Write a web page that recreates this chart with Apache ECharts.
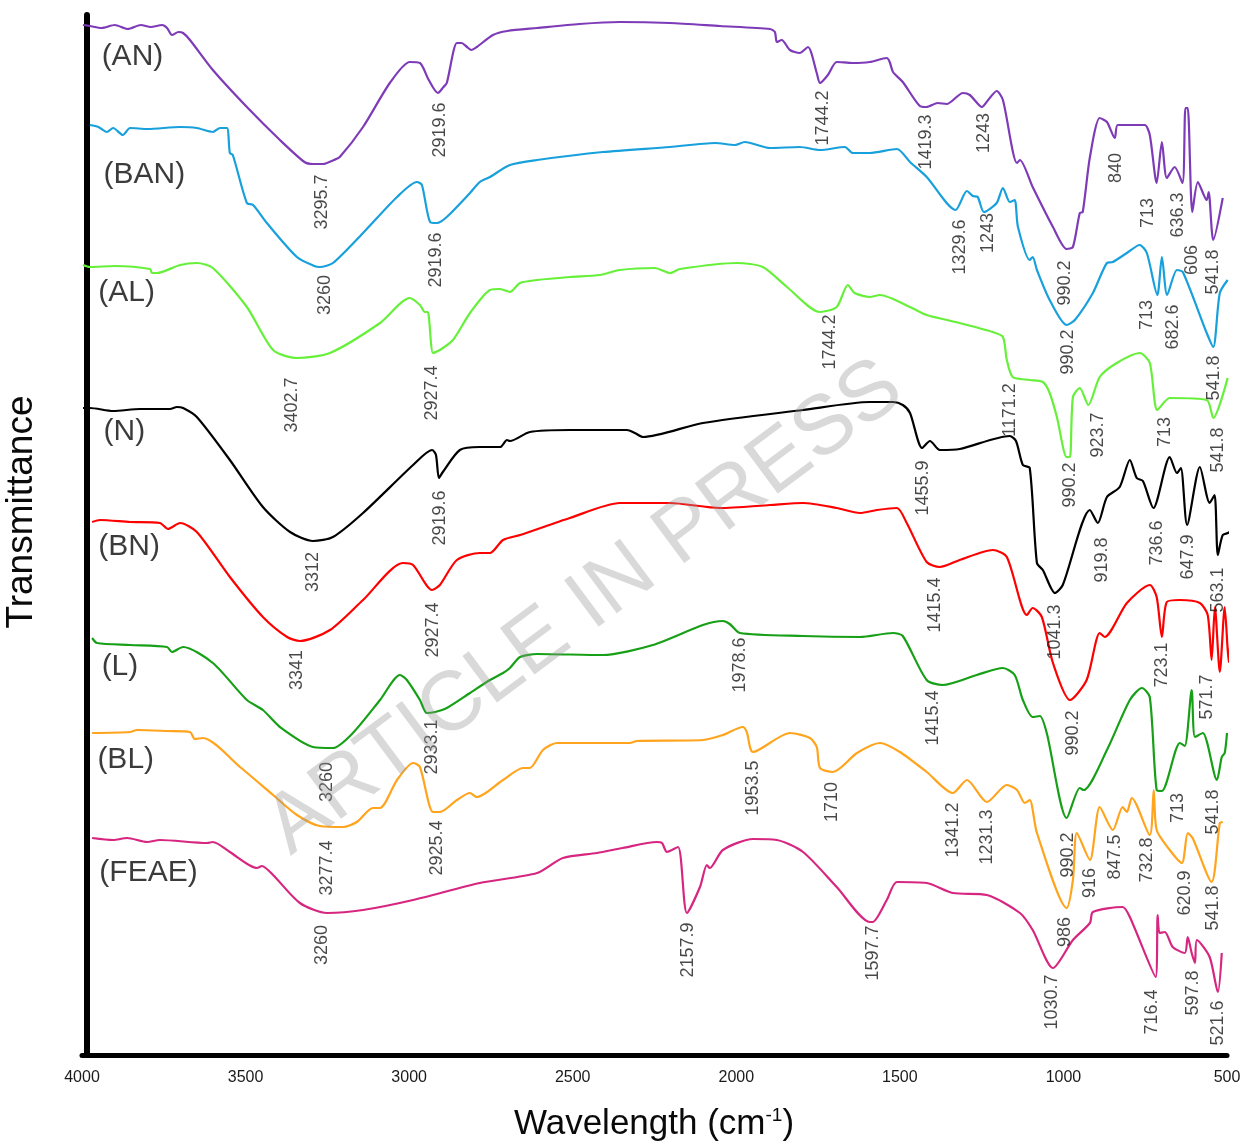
<!DOCTYPE html>
<html><head><meta charset="utf-8">
<script src="https://cdn.jsdelivr.net/npm/echarts@6/dist/echarts.min.js"></script>
<style>html,body{margin:0;padding:0;background:#fff}#c{width:1244px;height:1144px}</style>
</head><body><div id="c"></div>
<script>
// x: wavenumber (cm-1), y: transmittance (arbitrary offset units)
const wavenumberTicks = [4000, 3500, 3000, 2500, 2000, 1500, 1000, 500];
const sampleNames = ['(AN)', '(BAN)', '(AL)', '(N)', '(BN)', '(L)', '(BL)', '(FEAE)'];
const nameAnchors = [[3940, 998], [3934, 880], [3950, 762], [3934, 623], [3950, 508], [3940, 388], [3953, 295], [3947, 182]];

const AN = [[3997,1030],[3976,1029],[3940,1027],[3900,1030],[3860,1026],[3820,1030],[3790,1028],[3755,1030],[3740,1027],[3725,1020],[3705,1023],[3691,1022],[3670,1015],[3600,985],[3496,948],[3395,915],[3320,893],[3294,891],[3263,891],[3230,895],[3212,898],[3141,928],[3059,972],[2998,993],[2967,992],[2940,975],[2912,962],[2895,968],[2885,972],[2854,1012],[2840,1012],[2823,1008],[2810,1005],[2793,1008],[2744,1020],[2700,1024],[2609,1027],[2480,1031],[2356,1033],[2203,1032],[2050,1029],[1897,1026],[1882,1023],[1876,1013],[1861,1015],[1836,1005],[1806,1002],[1781,1008],[1754,982],[1744,972],[1720,980],[1693,993],[1644,992],[1592,993],[1540,997],[1531,993],[1521,983],[1491,973],[1439,949],[1419,948],[1384,952],[1357,951],[1307,962],[1286,960],[1249,948],[1230,955],[1204,964],[1185,955],[1142,892],[1133,895],[1094,868],[1032,828],[990,806],[971,808],[950,842],[941,843],[919,898],[889,937],[867,933],[843,917],[834,930],[776,930],[751,930],[736,920],[715,872],[699,913],[684,877],[660,888],[636,872],[627,947],[620,947],[606,843],[589,873],[562,855],[556,863],[542,815],[513,857]];
const BAN = [[3976,930],[3950,928],[3924,923],[3905,927],[3875,920],[3853,927],[3800,926],[3700,928],[3649,927],[3600,923],[3578,927],[3557,927],[3548,902],[3539,900],[3496,852],[3477,850],[3435,832],[3343,798],[3290,789],[3273,788],[3233,792],[3141,822],[3037,858],[2976,873],[2961,870],[2936,833],[2915,832],[2885,838],[2814,862],[2784,873],[2753,878],[2692,890],[2609,895],[2408,903],[2203,908],[2065,912],[2004,910],[1974,913],[1897,907],[1806,908],[1744,905],[1668,908],[1644,902],[1592,902],[1509,906],[1469,893],[1418,878],[1330,845],[1295,864],[1277,859],[1262,858],[1243,843],[1204,852],[1185,867],[1164,853],[1149,855],[1139,828],[1103,795],[1094,798],[1081,785],[1042,755],[990,730],[965,735],[910,762],[867,792],[849,793],[806,802],[767,810],[745,802],[713,760],[699,798],[683,760],[653,785],[635,783],[562,722],[542,708],[522,762],[498,775]];
const AL = [[3997,790],[3976,788],[3900,789],[3792,786],[3786,782],[3771,782],[3700,790],[3649,792],[3600,787],[3496,748],[3416,705],[3343,697],[3242,702],[3089,732],[2998,757],[2967,750],[2952,743],[2943,743],[2927,702],[2906,705],[2866,715],[2814,742],[2753,765],[2722,766],[2692,763],[2661,772],[2609,775],[2509,778],[2417,780],[2356,785],[2249,787],[2203,782],[2172,786],[1998,792],[1919,788],[1845,768],[1744,743],[1693,748],[1659,770],[1638,762],[1592,758],[1561,760],[1469,748],[1418,740],[1317,732],[1216,723],[1185,718],[1173,695],[1155,678],[1103,675],[1063,673],[1042,662],[1020,638],[990,598],[980,598],[971,658],[950,667],[924,650],[889,678],[837,692],[767,702],[736,692],[713,645],[675,657],[562,655],[542,637],[498,677]];
const N = [[3997,647],[3976,647],[3905,644],[3823,646],[3731,646],[3710,648],[3691,647],[3649,638],[3548,595],[3447,548],[3364,523],[3294,514],[3233,518],[3141,542],[2988,590],[2930,605],[2918,600],[2909,577],[2897,583],[2845,605],[2784,608],[2722,608],[2701,615],[2692,614],[2631,623],[2509,625],[2334,625],[2310,622],[2285,618],[2102,632],[1796,645],[1592,653],[1521,653],[1491,650],[1469,642],[1432,607],[1408,614],[1378,605],[1317,606],[1164,619],[1145,614],[1124,590],[1103,587],[1081,492],[1063,485],[1026,462],[1002,470],[919,545],[895,532],[867,558],[828,568],[797,595],[776,577],[757,574],[725,547],[675,598],[653,582],[641,587],[622,530],[583,588],[553,552],[538,560],[528,500],[513,520],[492,523],[470,558]];
const BN = [[3969,533],[3945,535],[3853,533],[3762,532],[3737,526],[3700,532],[3649,523],[3548,478],[3447,438],[3373,418],[3334,414],[3242,425],[3141,455],[3019,492],[2988,490],[2930,465],[2906,470],[2854,495],[2784,502],[2753,502],[2713,515],[2661,520],[2509,537],[2356,552],[2203,552],[2050,547],[1897,550],[1796,552],[1693,547],[1622,542],[1570,545],[1509,547],[1479,532],[1418,493],[1378,488],[1317,495],[1216,505],[1173,498],[1112,440],[1094,447],[1066,438],[1032,392],[980,355],[929,375],[889,422],[874,418],[806,452],[736,470],[715,458],[699,418],[684,453],[644,455],[583,452],[559,440],[547,395],[537,448],[522,383],[507,448],[495,393],[479,498]];
const L = [[3969,417],[3954,412],[3853,410],[3740,408],[3725,403],[3691,408],[3600,392],[3496,355],[3447,345],[3395,328],[3294,308],[3233,307],[3172,322],[3089,355],[3028,380],[3007,375],[2967,355],[2946,342],[2921,343],[2885,347],[2814,362],[2753,375],[2713,382],[2692,387],[2661,398],[2609,401],[2408,400],[2255,410],[2102,430],[2041,434],[2020,431],[1989,422],[1796,419],[1622,418],[1521,422],[1491,419],[1418,375],[1369,370],[1265,380],[1185,387],[1149,380],[1124,355],[1094,338],[1072,339],[1051,322],[990,237],[950,267],[938,265],[867,305],[797,355],[760,367],[736,358],[715,265],[699,264],[644,312],[629,309],[608,365],[598,318],[574,322],[531,275],[516,298],[507,302],[500,322]];
const BL = [[3969,322],[3853,323],[3832,325],[3740,324],[3670,323],[3655,316],[3630,317],[3517,288],[3416,260],[3343,240],[3273,229],[3202,228],[3160,233],[3111,247],[3089,247],[3037,275],[2988,292],[2967,288],[2927,243],[2906,243],[2854,255],[2814,262],[2793,258],[2713,275],[2652,287],[2631,287],[2591,305],[2548,312],[2325,312],[2304,314],[2102,315],[2041,320],[1980,328],[1968,323],[1949,303],[1836,322],[1775,317],[1754,308],[1744,287],[1705,283],[1631,302],[1561,312],[1500,303],[1418,283],[1338,262],[1295,275],[1234,253],[1173,270],[1142,265],[1118,252],[1103,255],[1081,222],[990,147],[971,175],[959,222],[919,195],[889,248],[849,225],[819,248],[806,243],[791,257],[736,220],[724,265],[715,225],[675,205],[638,192],[620,222],[605,217],[547,173],[522,232],[513,233]];
const FEAE = [[3969,217],[3905,215],[3862,217],[3801,213],[3762,215],[3618,212],[3600,213],[3548,203],[3465,187],[3450,189],[3416,180],[3334,152],[3251,142],[3141,145],[2988,155],[2784,172],[2609,182],[2530,197],[2426,202],[2347,207],[2243,213],[2227,212],[2212,203],[2178,208],[2151,142],[2111,168],[2090,190],[2081,187],[2041,205],[1949,216],[1876,215],[1796,203],[1693,168],[1592,133],[1583,133],[1540,155],[1509,173],[1418,172],[1338,162],[1234,160],[1133,142],[1094,125],[1032,87],[971,115],[919,132],[910,143],[819,148],[797,138],[718,78],[712,140],[706,122],[690,123],[666,108],[629,102],[620,118],[608,102],[598,92],[592,115],[553,98],[528,63],[516,102]];

// peak annotations: [wavenumber, y, text]
const peaksAN = [[3267,853,'3295.7'],[2906,925,'2919.6'],[1735,937,'1744.2'],[1421,913,'1419.3'],[1243,922,'1243'],[996,772,'990.2'],[840,887,'840'],[742,842,'713'],[650,840,'636.3'],[608,795,'606'],[544,783,'541.8']];
const peaksBAN = [[3257,760,'3260'],[2918,795,'2919.6'],[1317,808,'1329.6'],[1231,822,'1243'],[987,703,'990.2'],[745,740,'713'],[666,728,'682.6'],[541,677,'541.8']];
const peaksAL = [[3358,650,'3402.7'],[2930,662,'2927.4'],[1714,713,'1744.2'],[1164,645,'1171.2'],[980,570,'990.2'],[895,620,'923.7'],[690,623,'713'],[528,605,'541.8']];
const peaksN = [[3294,483,'3312'],[2906,537,'2919.6'],[1430,567,'1455.9'],[1026,423,'1041.3'],[883,495,'919.8'],[715,512,'736.6'],[620,498,'647.9'],[528,465,'563.1']];
const peaksBN = [[3343,385,'3341'],[2927,425,'2927.4'],[1393,450,'1415.4'],[971,322,'990.2'],[699,390,'723.1'],[562,358,'571.7'],[498,353,'541.8']];
const peaksL = [[3251,273,'3260'],[2930,308,'2933.1'],[1989,390,'1978.6'],[1399,337,'1415.4'],[987,200,'990.2'],[650,247,'713'],[544,243,'541.8']];
const peaksBL = [[3251,187,'3277.4'],[2915,207,'2925.4'],[1949,267,'1953.5'],[1708,253,'1710'],[1338,225,'1341.2'],[1234,218,'1231.3'],[996,123,'986'],[919,172,'916'],[843,198,'847.5'],[745,195,'732.8'],[629,162,'620.9'],[544,147,'541.8']];
const peaksFEAE = [[3267,110,'3260'],[2148,105,'2157.9'],[1583,102,'1597.7'],[1035,53,'1030.7'],[730,43,'716.4'],[605,62,'597.8'],[528,32,'521.6']];

const curves = [AN, BAN, AL, N, BN, L, BL, FEAE];
const colors = ['#7E3BB8', '#18A0DC', '#66F03A', '#000000', '#FF0000', '#17A017', '#FFA41C', '#D62680'];
const peakSets = [peaksAN, peaksBAN, peaksAL, peaksN, peaksBN, peaksL, peaksBL, peaksFEAE];

const FONT = '"Liberation Sans", Arial, sans-serif';
const series = [];
curves.forEach((d, i) => {
  series.push({
    name: sampleNames[i], type: 'line', data: d, symbol: 'none', smooth: 0.25,
    clip: false, lineStyle: { color: colors[i], width: 2.2 }, z: 3
  });
});
peakSets.forEach((p) => {
  series.push({
    type: 'scatter', symbolSize: 0, z: 5, silent: true,
    data: p.map(r => ({ value: [r[0], r[1]], name: r[2] })),
    label: { show: true, position: 'inside', rotate: 90, formatter: '{b}',
      color: '#1a1a1a', fontSize: 18, fontFamily: FONT }
  });
});
series.push({
  type: 'scatter', symbolSize: 0, z: 5, silent: true,
  data: nameAnchors.map((a, i) => ({ value: a, name: sampleNames[i] })),
  label: { show: true, position: 'inside', align: 'left', formatter: '{b}',
    color: '#0a0a0a', fontSize: 30, fontFamily: FONT }
});

const chart = echarts.init(document.getElementById('c'));
chart.setOption({
  animation: false,
  backgroundColor: '#fff',
  grid: { left: 82, right: 17, top: 15, bottom: 89 },
  xAxis: {
    type: 'value', min: 500, max: 4000, interval: 500, inverse: true,
    axisLine: { show: true, lineStyle: { color: '#000', width: 5, cap: 'round' } },
    axisTick: { show: false }, splitLine: { show: false },
    axisLabel: { color: '#1a1a1a', fontSize: 16, fontFamily: FONT, margin: 15,
      formatter: v => wavenumberTicks.includes(v) ? String(v) : '' }
  },
  yAxis: {
    type: 'value', min: 0, max: 1040, offset: -5,
    axisLine: { show: true, lineStyle: { color: '#000', width: 6 } },
    axisTick: { show: false }, splitLine: { show: false }, axisLabel: { show: false }
  },
  graphic: [
    { type: 'text', x: 22, y: 512, rotation: Math.PI / 2, z: 10,
      style: { text: 'Transmittance', fontSize: 37, fontFamily: FONT, fill: '#0a0a0a', align: 'center', verticalAlign: 'middle' } },
    { type: 'text', x: 654, y: 1124, z: 10,
      style: { text: 'Wavelength (cm{s|-1})', fontSize: 35, fontFamily: FONT, fill: '#0a0a0a', align: 'center', verticalAlign: 'middle',
        rich: { s: { fontSize: 19, fontFamily: FONT, fill: '#0a0a0a', verticalAlign: 'top', padding: [0, 0, 16, 0] } } } },
    { type: 'text', x: 585, y: 608, rotation: 0.64, z: 20, silent: true,
      style: { text: 'ARTICLE IN PRESS', fontSize: 84, fontFamily: FONT, fill: 'rgba(150,150,150,0.36)', align: 'center', verticalAlign: 'middle' } }
  ],
  series: series
});
</script>
</body></html>
